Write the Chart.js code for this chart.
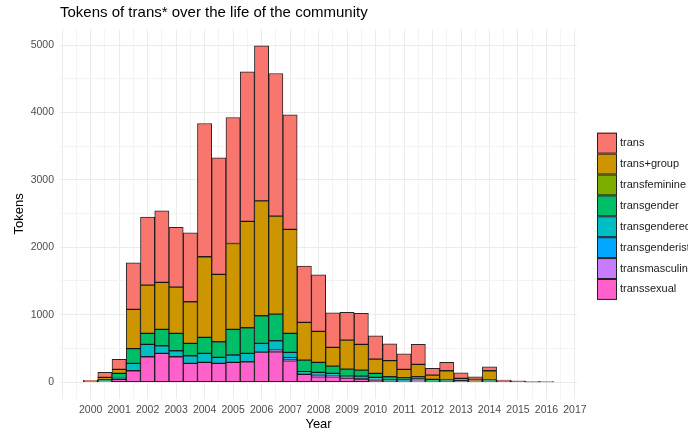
<!DOCTYPE html>
<html>
<head>
<meta charset="utf-8">
<script src="https://cdn.jsdelivr.net/npm/chart.js@4.4.1/dist/chart.umd.min.js"></script>
<style>
  html, body { margin: 0; padding: 0; background: #fff; }
  #wrap { width: 688px; height: 432px; position: relative; }
</style>
</head>
<body>
<div id="wrap"><canvas id="chart"></canvas></div>
<script>
// half-year bins (bin centres)
const years = [2000, 2000.5, 2001, 2001.5, 2002, 2002.5, 2003, 2003.5, 2004, 2004.5, 2005, 2005.5,
  2006, 2006.5, 2007, 2007.5, 2008, 2008.5, 2009, 2009.5, 2010, 2010.5, 2011, 2011.5,
  2012, 2012.5, 2013, 2013.5, 2014, 2014.5, 2015, 2015.5, 2016];
const yearLabels = [2000, 2001, 2002, 2003, 2004, 2005, 2006, 2007, 2008, 2009, 2010, 2011, 2012, 2013, 2014, 2015, 2016, 2017];
const tokenLabels = [0, 1000, 2000, 3000, 4000, 5000];
// grid lines (major + minor)
const xGrid = [1999, 1999.5, 2000, 2000.5, 2001, 2001.5, 2002, 2002.5, 2003, 2003.5, 2004, 2004.5, 2005, 2005.5,
  2006, 2006.5, 2007, 2007.5, 2008, 2008.5, 2009, 2009.5, 2010, 2010.5, 2011, 2011.5, 2012, 2012.5,
  2013, 2013.5, 2014, 2014.5, 2015, 2015.5, 2016, 2016.5, 2017];
const yGrid = [0, 500, 1000, 1500, 2000, 2500, 3000, 3500, 4000, 4500, 5000];

// token counts per bin, one list per term (bottom of stack first)
const transsexual    = [5, 15, 40, 168, 376, 425, 376, 277, 292, 277, 292, 302, 445, 450, 316, 114, 79, 79, 59, 45, 25, 10, 10, 15, 10, 10, 5, 5, 10, 0, 0, 0, 0];
const transmasculine = [0, 0, 0, 0, 0, 0, 0, 0, 0, 0, 0, 0, 0, 25, 20, 10, 10, 10, 0, 0, 15, 0, 10, 15, 0, 0, 0, 0, 0, 0, 0, 0, 0];
const transgenderist = [0, 0, 0, 0, 0, 0, 0, 0, 0, 0, 0, 0, 0, 0, 25, 10, 10, 10, 0, 0, 0, 0, 0, 0, 0, 0, 0, 0, 0, 0, 0, 0, 0];
const transgendered  = [0, 5, 14, 109, 183, 114, 89, 114, 133, 89, 109, 123, 129, 138, 79, 20, 44, 30, 30, 44, 29, 20, 10, 15, 0, 0, 0, 0, 0, 0, 0, 0, 0];
const transgender    = [5, 15, 75, 218, 163, 242, 257, 183, 238, 232, 380, 381, 410, 396, 282, 172, 149, 108, 104, 89, 60, 49, 34, 34, 30, 20, 15, 10, 20, 5, 0, 0, 0];
const transfeminine  = [0, 0, 0, 0, 0, 0, 0, 0, 0, 0, 0, 0, 0, 0, 0, 0, 0, 0, 0, 0, 0, 0, 0, 0, 0, 0, 0, 0, 0, 0, 0, 0, 0];
const transGroup     = [8, 35, 59, 583, 717, 698, 687, 618, 1197, 999, 1276, 1578, 1706, 1454, 1543, 559, 460, 277, 430, 381, 212, 238, 124, 183, 64, 138, 34, 25, 138, 15, 10, 3, 2];
const trans          = [7, 73, 148, 693, 1009, 1063, 886, 1024, 1978, 1731, 1870, 2220, 2300, 2117, 1701, 836, 840, 515, 411, 460, 346, 252, 232, 297, 99, 124, 84, 39, 59, 10, 10, 5, 3];

const series = [
  { name: 'transsexual', values: transsexual, color: '#FF61CC' },
  { name: 'transmasculine', values: transmasculine, color: '#C77CFF' },
  { name: 'transgenderist', values: transgenderist, color: '#00A9FF' },
  { name: 'transgendered', values: transgendered, color: '#00BFC4' },
  { name: 'transgender', values: transgender, color: '#00BE67' },
  { name: 'transfeminine', values: transfeminine, color: '#7CAE00' },
  { name: 'trans+group', values: transGroup, color: '#CD9600' },
  { name: 'trans', values: trans, color: '#F8766D' }
];

const FONT = '"Liberation Sans", Arial, Helvetica, sans-serif';

// title aligned with the panel, legend on the right (ggplot style)
const decorations = {
  id: 'decorations',
  afterDraw(chart) {
    const ctx = chart.ctx;
    const area = chart.chartArea;
    ctx.save();
    ctx.fillStyle = '#000';
    ctx.font = '15px ' + FONT;
    ctx.textAlign = 'left';
    ctx.textBaseline = 'middle';
    ctx.fillText('Tokens of trans* over the life of the community', area.left, 13);

    const boxX = 597, boxW = 20, boxH = 20.9, top = 132.7;
    const items = series.slice().reverse();
    ctx.font = '11px ' + FONT;
    items.forEach((s, i) => {
      const y = top + i * boxH;
      ctx.fillStyle = s.color;
      ctx.fillRect(boxX, y, boxW, boxH);
      ctx.strokeStyle = '#222';
      ctx.lineWidth = 1;
      ctx.strokeRect(boxX + 0.5, y + 0.5, boxW - 1, boxH - 1);
      ctx.fillStyle = '#1a1a1a';
      ctx.fillText(s.name, 620, y + boxH / 2);
    });
    ctx.restore();
  }
};

new Chart(document.getElementById('chart'), {
  type: 'bar',
  data: {
    datasets: series.map(s => ({
      label: s.name,
      data: years.map((x, i) => ({ x: x, y: s.values[i] })),
      backgroundColor: s.color,
      borderColor: 'rgba(0,0,0,0.85)',
      borderWidth: 1,
      borderSkipped: false,
      categoryPercentage: 1,
      barPercentage: 1
    }))
  },
  options: {
    responsive: true,
    maintainAspectRatio: false,
    animation: false,
    layout: { padding: { left: 8, right: 110.9, top: 29, bottom: 0 } },
    plugins: {
      legend: { display: false },
      title: { display: false },
      tooltip: { enabled: false }
    },
    scales: {
      x: {
        type: 'linear',
        stacked: true,
        offset: false,
        min: 1998.925,
        max: 2017.075,
        border: { display: false },
        grid: {
          offset: false,
          drawTicks: false,
          color: c => (c.tick && Number.isInteger(c.tick.value)) ? '#ebebeb' : '#f3f3f3',
          lineWidth: 1
        },
        afterBuildTicks: scale => { scale.ticks = xGrid.map(v => ({ value: v })); },
        ticks: {
          autoSkip: false,
          maxRotation: 0,
          padding: 5,
          color: '#4d4d4d',
          font: { family: FONT, size: 10.5 },
          callback: v => yearLabels.includes(v) ? String(v) : ''
        },
        title: {
          display: true,
          text: 'Year',
          color: '#000',
          font: { family: FONT, size: 13 },
          padding: { top: 0, bottom: 0 }
        },
        afterFit: scale => { scale.height = 33.1; }
      },
      y: {
        stacked: true,
        min: -250,
        max: 5240,
        border: { display: false },
        grid: {
          drawTicks: false,
          color: c => (c.tick && c.tick.value % 1000 === 0) ? '#ebebeb' : '#f3f3f3',
          lineWidth: 1
        },
        afterBuildTicks: scale => { scale.ticks = yGrid.map(v => ({ value: v })); },
        ticks: {
          padding: 6,
          color: '#4d4d4d',
          font: { family: FONT, size: 10.5 },
          callback: v => tokenLabels.includes(v) ? String(v) : ''
        },
        title: {
          display: true,
          text: 'Tokens',
          color: '#000',
          font: { family: FONT, size: 13 },
          padding: { top: 4, bottom: 0 }
        },
        afterFit: scale => { scale.width = 52; }
      }
    }
  },
  plugins: [decorations]
});
</script>
</body>
</html>
